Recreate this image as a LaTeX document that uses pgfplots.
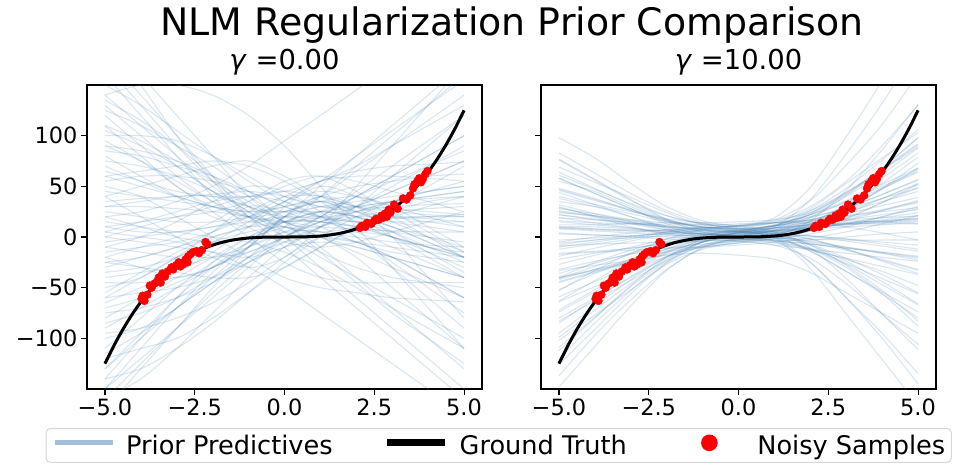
\documentclass[border=0pt]{standalone}
\usepackage{fontspec}
\setmainfont{DejaVu Sans}
\usepackage{pgfplots}
\usepackage{pgfplotstable}
\pgfplotsset{compat=1.18}
\definecolor{steelb}{RGB}{70,130,180}
\definecolor{legblue}{RGB}{162,191,217}
\definecolor{legframe}{RGB}{214,214,214}

% each row = one prior predictive line, columns = values at x=-5..5
\pgfplotstableread[header=has colnames]{
-5 -4 -3 -2 -1 0 1 2 3 4 5
140 110 80 50 25 10 0 -10 -20 -30 -40
-150 -120 -90 -60 -30 0 20 40 60 80 100
90 85 75 60 40 20 15 10 5 0 -5
-40 -35 -30 -20 -10 5 20 40 60 80 100
200 160 120 80 40 15 10 30 60 90 120
-80 -60 -40 -20 0 10 -10 -40 -70 -100 -130
30 30 28 25 20 15 10 8 6 5 5
120 90 60 35 15 20 30 35 40 45 50
-130 -100 -70 -45 -20 10 40 70 100 130 160
60 50 40 30 25 30 40 50 55 60 62
-60 -55 -50 -40 -25 -5 10 20 25 28 30
180 140 100 60 20 -10 -40 -70 -100 -130 -160
10 15 20 25 35 50 60 55 45 35 25
-100 -90 -70 -40 -10 20 35 20 0 -20 -40
50 40 20 0 -20 -40 -50 -55 -60 -62 -64
-20 -10 0 15 35 55 60 45 25 5 -15
100 100 95 80 60 40 30 25 20 18 15
-150 -110 -70 -35 -5 20 30 30 28 25 22
140 150 150 140 120 90 50 10 -30 -70 -110
0 -5 -10 -15 -20 -10 10 30 50 70 90
-90 -70 -50 -30 -10 5 5 -5 -20 -40 -60
75 70 60 45 25 0 -30 -60 -90 -120 -150
35 38 40 42 45 40 30 30 35 40 45
-30 -20 -10 0 10 25 35 30 20 15 10
160 120 80 40 10 -5 -10 -5 5 15 25
-50 -40 -20 5 30 25 10 -5 -15 -20 -25
20 25 35 50 70 95 120 145 170 190 210
-120 -110 -100 -80 -55 -30 -10 10 30 50 70
5 0 -5 -15 -30 -50 -75 -100 -125 -150 -175
110 95 75 55 35 15 5 0 -5 -8 -10
-10 -15 -20 -20 -15 0 20 45 70 95 120
45 40 35 30 20 10 5 10 20 30 40
-140 -130 -110 -85 -55 -25 0 20 35 45 50
85 80 70 60 45 30 20 15 18 20 22
-70 -60 -45 -30 -15 0 15 25 30 32 33
130 100 70 45 30 25 40 65 90 115 140
-25 -30 -35 -40 -40 -30 -10 10 25 35 40
15 10 5 0 -5 -15 -30 -50 -70 -90 -110
60 65 70 75 70 55 35 15 0 -10 -15
-110 -80 -50 -25 -5 15 25 20 10 0 -10
150 130 105 80 55 35 20 10 0 -10 -20
-45 -45 -40 -30 -10 20 50 80 110 140 170
25 20 15 15 20 30 35 25 10 -5 -20
-5 0 5 10 15 20 18 15 15 15 15
95 75 50 25 0 -25 -40 -45 -45 -45 -45
-160 -125 -90 -55 -25 0 15 20 20 20 20
40 50 60 70 75 60 40 25 15 10 5
-75 -70 -60 -45 -25 -10 -5 -10 -20 -30 -40
200 150 100 55 20 5 0 -5 -10 -15 -20
-15 -10 -5 5 20 40 55 60 60 58 55
70 55 40 30 25 25 25 20 10 -5 -20
-35 -30 -20 -5 15 35 45 40 30 20 10
125 110 90 70 45 15 -15 -45 -75 -100 -125
-95 -90 -80 -65 -45 -20 0 5 0 -10 -20
10 5 5 10 20 35 55 80 105 130 155
55 60 60 55 45 30 20 25 35 45 55
-130 -95 -60 -30 -5 15 25 30 35 38 40
80 60 40 20 10 15 25 20 5 -15 -35
-60 -40 -20 -5 5 10 0 -20 -50 -80 -110
0 10 20 30 40 45 40 30 25 22 20
-170 -130 -90 -50 -10 30 50 40 20 0 -20
40 20 0 -20 -30 -20 10 50 90 130 170
-20 -30 -40 -30 -10 20 40 30 0 -40 -80
110 80 50 30 20 25 35 40 30 10 -10
-65 -50 -35 -15 10 35 55 65 70 72 74
170 130 90 55 30 20 20 15 5 -10 -25
-10 0 15 35 50 45 25 0 -30 -60 -90
-140 -100 -60 -25 0 15 15 5 -10 -25 -40
65 55 45 40 40 45 55 70 90 110 130
-85 -75 -60 -40 -20 -5 0 -5 -20 -40 -60
20 10 0 -5 0 10 25 40 55 70 85
105 90 70 45 20 0 -20 -40 -60 -80 -100
-25 -20 -10 5 25 40 40 30 15 0 -15
-55 -35 -15 0 10 15 15 10 0 -15 -30
135 115 90 60 30 5 -15 -30 -40 -45 -50
-115 -95 -70 -45 -20 0 15 30 45 60 75
30 35 40 40 30 15 0 -15 -30 -45 -60
-160 -140 -110 -75 -40 -10 10 25 35 40 45
5 15 25 35 40 35 20 0 -25 -50 -75
90 75 55 35 20 15 20 30 45 60 75
}\leftraw
\pgfplotstabletranspose\leftT{\leftraw}

\pgfplotstableread[header=has colnames]{
-5 -4 -3 -2 -1 0 1 2 3 4 5
46 36 26 16 10 8 4 1 -4 -9 -14
-64 -49 -34 -19 -10 -6 -1 6 16 26 36
98 78 53 30 16 11 14 28 53 78 103
-148 -108 -68 -33 -10 -1 7 12 17 22 27
4 2 0 -2 -3 -4 -8 -21 -46 -76 -106
-10 -5 0 5 8 11 16 30 55 90 130
25 20 15 10 6 4 2 -5 -10 -15 -20
-36 -26 -16 -6 -1 3 6 9 14 19 24
58 43 28 13 5 0 -4 -12 -27 -47 -67
-83 -63 -43 -23 -5 2 6 10 13 16 19
12 12 13 14 14 15 17 24 42 67 92
30 20 10 3 -1 -2 -3 -3 0 3 5
-72 -52 -32 -15 -5 1 6 13 28 48 68
24 21 17 14 12 10 5 -11 -41 -76 -111
-33 -28 -23 -15 -9 -4 2 12 27 47 67
55 45 30 17 10 8 9 13 20 27 35
-109 -79 -49 -24 -9 -3 3 9 13 17 21
16 14 13 12 12 13 17 36 71 111 161
-17 -15 -13 -11 -10 -8 -5 -1 5 13 21
76 56 36 21 13 9 2 -14 -34 -54 -74
-42 -32 -22 -12 -2 4 8 12 13 13 13
19 17 14 9 4 1 -3 -11 -26 -41 -56
-126 -91 -56 -26 -8 -1 3 9 19 34 49
40 32 25 18 14 11 6 -2 -12 -22 -32
-9 -7 -6 -5 -4 -3 1 16 46 86 131
47 37 27 17 10 5 0 -6 -13 -23 -33
-63 -43 -23 -8 1 6 11 19 29 42 57
77 57 37 17 5 1 -1 -2 -3 -3 -3
-12 -7 -2 5 9 11 14 16 16 15 13
10 10 8 5 3 1 -4 -25 -60 -100 -145
-80 -60 -40 -20 -5 2 9 20 35 50 65
58 43 28 15 7 1 3 13 33 58 83
-6 -3 1 4 6 8 11 14 17 19 21
-102 -77 -52 -27 -12 -5 0 1 -2 -7 -12
26 21 16 11 8 6 3 -2 -12 -24 -36
-44 -34 -24 -14 -5 1 7 19 41 66 91
69 54 39 24 12 6 1 -8 -24 -44 -66
-40 -33 -25 -17 -10 -6 -2 3 10 20 30
8 6 4 2 2 4 7 10 12 14 16
-137 -97 -62 -32 -11 -1 4 11 23 38 53
35 30 23 15 10 6 0 -25 -60 -95 -135
-45 -35 -25 -12 1 8 14 20 28 38 48
38 30 20 10 3 0 1 10 28 48 73
-59 -44 -29 -14 -2 4 9 12 14 16 18
10 8 6 4 3 2 0 -4 -10 -16 -23
-16 -14 -11 -6 -1 4 11 24 44 66 89
-112 -80 -48 -20 -2 6 12 22 36 52 68
44 32 20 8 0 -4 -8 -12 -16 -20 -24
-3 -1 1 3 4 5 6 8 10 12 15
-95 -68 -42 -20 -8 -2 4 10 18 26 34
22 17 13 10 9 8 5 -8 -28 -53 -83
-40 -32 -24 -18 -16 -18 -22 -35 -55 -75 -95
28 23 17 11 7 5 9 23 43 68 98
-19 -11 -4 3 7 10 14 17 21 25 29
32 23 15 7 2 -2 -6 -13 -21 -29 -37
-74 -54 -34 -16 -3 5 11 26 48 76 106
-8 -3 -1 1 2 3 10 37 82 132 187
9 7 6 7 9 11 19 49 99 154 209
9 8 7 6 6 5 -1 -31 -76 -121 -166
-22 -16 -11 -7 -4 1 6 16 28 42 56
83 63 43 26 14 7 0 -14 -34 -56 -80
-40 -25 -13 -4 2 7 11 17 25 35 45
15 12 9 6 3 0 -3 -7 -11 -15 -19
-53 -33 -16 -2 7 12 14 14 10 4 -3
29 21 13 7 3 1 5 15 31 53 79
-99 -72 -46 -22 -4 5 12 22 34 48 64
61 47 33 21 13 8 3 -7 -21 -37 -55
-32 -24 -17 -11 -7 -4 -1 6 18 34 52
22 18 14 10 7 5 5 8 13 20 28
-41 -29 -17 -6 2 6 9 11 13 15 17
64 48 32 18 8 3 -1 -12 -30 -56 -88
-5 0 4 7 9 11 15 26 44 68 98
-120 -85 -53 -25 -5 4 9 15 23 31 39
3 2 1 0 -1 -2 -5 -12 -22 -34 -48
-27 -18 -10 -2 4 7 11 17 26 38 52
48 38 26 16 9 5 3 1 -2 -5 -8
-52 -36 -22 -9 0 5 11 22 40 62 88
19 14 9 4 0 -2 -4 -7 -11 -16 -21
-85 -61 -39 -19 -5 2 6 9 12 15 18
}\rightraw
\pgfplotstabletranspose\rightT{\rightraw}

\pgfplotstableread{
x y
-5 -125
-4.75 -107.17
-4.5 -91.125
-4.25 -76.77
-4 -64
-3.75 -52.73
-3.5 -42.875
-3.25 -34.33
-3 -27
-2.75 -20.80
-2.5 -15.625
-2.25 -11.39
-2 -8
-1.75 -5.36
-1.5 -3.375
-1.25 -1.95
-1 -1
-0.75 -0.42
-0.5 -0.125
-0.25 -0.016
0 0
0.25 0.016
0.5 0.125
0.75 0.42
1 1
1.25 1.95
1.5 3.375
1.75 5.36
2 8
2.25 11.39
2.5 15.625
2.75 20.80
3 27
3.25 34.33
3.5 42.875
3.75 52.73
4 64
4.25 76.77
4.5 91.125
4.75 107.17
5 125
}\gt

\pgfplotstableread{
x y
-3.98 -61
-3.95 -58
-3.9 -63
-3.82 -57
-3.75 -48
-3.7 -50
-3.62 -46
-3.55 -44
-3.5 -40
-3.45 -45
-3.4 -36
-3.33 -39
-3.25 -34
-3.15 -30
-3.1 -32
-3.02 -28
-2.95 -25
-2.9 -29
-2.82 -27
-2.75 -22
-2.7 -25
-2.68 -19
-2.62 -17
-2.55 -15
-2.45 -14
-2.38 -16
-2.3 -13
-2.2 -5
-2.15 -7
2.1 9
2.15 11
2.25 10
2.3 14
2.42 13
2.5 16
2.55 18
2.62 17
2.7 21
2.75 19
2.8 23
2.85 20
2.9 27
2.95 24
3.05 32
3.15 28
3.3 38
3.4 37
3.5 41
3.58 48
3.62 52
3.7 55
3.75 58
3.8 54
3.85 57
3.92 62
3.98 65
}\noisy

\pgfplotsset{
  panel/.style={
    scale only axis, width=395bp, height=304bp,
    xmin=-5.5, xmax=5.5, ymin=-150, ymax=150,
    xtick={-5,-2.5,0,2.5,5}, xticklabels={−5.0,−2.5,0.0,2.5,5.0},
    ytick={-100,-50,0,50,100},
    tick align=outside, tick pos=left, major tick length=6bp,
    tick style={black, line width=1.1bp},
    axis line style={black, line width=1.1bp},
    ticklabel style={font=\fontsize{22.5}{26}\selectfont},
    title style={font=\fontsize{27.5}{32}\selectfont, at={(0.5,1)}, anchor=base, yshift=10bp},
  },
  prior/.style={steelb, opacity=0.2, line width=1.1bp, smooth, forget plot},
  gtline/.style={black, line width=3bp, smooth, forget plot},
  noisypts/.style={only marks, mark=*, mark size=4bp, red, mark options={draw=red, fill=red}, forget plot},
}

\begin{document}
\begin{tikzpicture}
\useasboundingbox (0,0) rectangle (956bp,-473bp);
\node[font=\fontsize{38}{44}\selectfont, anchor=base] at (512bp,-35bp) {NLM Regularization Prior Comparison};

\begin{axis}[panel, at={(87bp,-389bp)}, anchor=south west,
  yticklabels={−100,−50,0,50,100},
  title={\textit{γ} =0.00},
  legend columns=3, legend cell align=left,
  legend style={at={(axis description cs:-0.1046,-0.1283)}, anchor=north west,
    draw=legframe, rounded corners=4bp, line width=1bp,
    font=\fontsize{25.7}{30}\selectfont, inner xsep=6bp, inner ysep=6bp,
    nodes={inner sep=0pt},
    /tikz/every odd column/.style={column sep=11bp},
    /tikz/every even column/.style={column sep=51bp}},
]
\addlegendimage{legend image code/.code={\draw[legblue, line width=5bp] (0bp,0.3em) -- (58bp,0.3em);}}
\addlegendentry{Prior Predictives}
\addlegendimage{legend image code/.code={\draw[black, line width=7bp] (0bp,0.3em) -- (58bp,0.3em);}}
\addlegendentry{Ground Truth}
\addlegendimage{legend image code/.code={\path[draw=none, fill=none] (-2.5bp,0.3em) -- (66bp,0.3em); \fill[red] (29bp,0.3em) circle (7.8bp);}}
\addlegendentry{Noisy Samples}
\pgfplotsinvokeforeach{1,...,80}{\addplot[prior] table[x=colnames, y index=#1] {\leftT};}
\addplot[gtline] table[x=x, y=y] {\gt};
\addplot[noisypts] table[x=x, y=y] {\noisy};
\end{axis}

\begin{axis}[panel, at={(541bp,-389bp)}, anchor=south west,
  yticklabels={},
  title={\textit{γ} =10.00},
]
\pgfplotsinvokeforeach{1,...,79}{\addplot[prior] table[x=colnames, y index=#1] {\rightT};}
\addplot[gtline] table[x=x, y=y] {\gt};
\addplot[noisypts] table[x=x, y=y] {\noisy};
\end{axis}
\end{tikzpicture}
\end{document}
